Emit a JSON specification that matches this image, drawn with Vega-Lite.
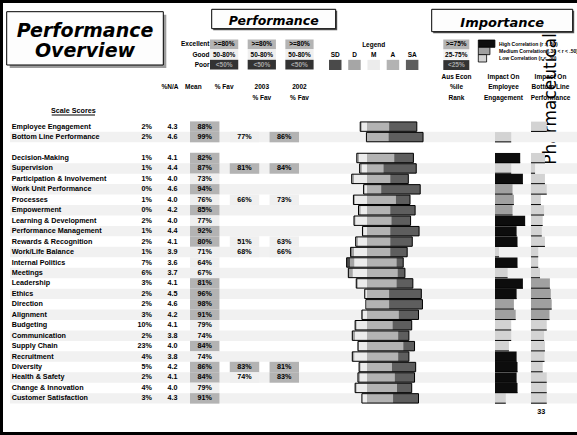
{
"$schema": "https://vega.github.io/schema/vega-lite/v6.json",
"width": 577, "height": 435, "autosize": "none", "padding": 0,
"background": "white",
"config": {
  "view": {"stroke": "#000000", "strokeWidth": 6, "strokeDash": [577, 435, 1012, 0]},
  "axis": {"disable": true}, "legend": {"disable": true},
  "text": {"font": "Liberation Sans", "fontWeight": "bold", "fontSize": 7.2, "color": "#000000"}
},
"datasets": {
 "rows": [
{"scale":"Employee Engagement","na":0.02,"mean":4.3,"fav":0.88,"sd":0.01,"d":0.02,"m":0.09,"a":0.39,"sa":0.49,"blR":0.35,"blLevel":"Low"},
{"scale":"Bottom Line Performance","na":0.02,"mean":4.6,"fav":0.99,"fav2003":0.77,"fav2002":0.86,"sd":0,"d":0,"m":0.01,"a":0.38,"sa":0.61,"engR":0.36,"engLevel":"Low"},
{"scale":"Decision-Making","na":0.01,"mean":4.1,"fav":0.82,"sd":0.01,"d":0.03,"m":0.14,"a":0.48,"sa":0.34,"engR":0.56,"engLevel":"High","blR":0.31,"blLevel":"Low"},
{"scale":"Supervision","na":0.01,"mean":4.4,"fav":0.87,"fav2003":0.81,"fav2002":0.84,"sd":0.01,"d":0.03,"m":0.09,"a":0.29,"sa":0.58,"engR":0.36,"engLevel":"Low","blR":0.09,"blLevel":"Low"},
{"scale":"Participation & Involvement","na":0.01,"mean":4.0,"fav":0.73,"sd":0.01,"d":0.03,"m":0.23,"a":0.41,"sa":0.32,"engR":0.62,"engLevel":"High","blR":0.31,"blLevel":"Low"},
{"scale":"Work Unit Performance","na":0,"mean":4.6,"fav":0.94,"sd":0.01,"d":0.01,"m":0.04,"a":0.25,"sa":0.69,"engR":0.39,"engLevel":"Medium","blR":0.35,"blLevel":"Low"},
{"scale":"Processes","na":0.01,"mean":4.0,"fav":0.76,"fav2003":0.66,"fav2002":0.73,"sd":0.01,"d":0.02,"m":0.21,"a":0.51,"sa":0.25,"engR":0.42,"engLevel":"Medium","blR":0.22,"blLevel":"Low"},
{"scale":"Empowerment","na":0,"mean":4.2,"fav":0.85,"sd":0.01,"d":0.03,"m":0.11,"a":0.41,"sa":0.44,"engR":0.39,"engLevel":"Medium","blR":0.29,"blLevel":"Low"},
{"scale":"Learning & Development","na":0.02,"mean":4.0,"fav":0.77,"sd":0.01,"d":0.02,"m":0.2,"a":0.43,"sa":0.34,"engR":0.67,"engLevel":"High","blR":0.26,"blLevel":"Low"},
{"scale":"Performance Management","na":0.01,"mean":4.4,"fav":0.92,"sd":0.01,"d":0.01,"m":0.06,"a":0.41,"sa":0.51,"engR":0.48,"engLevel":"High","blR":0.24,"blLevel":"Low"},
{"scale":"Rewards & Recognition","na":0.02,"mean":4.1,"fav":0.8,"fav2003":0.51,"fav2002":0.63,"sd":0.01,"d":0.03,"m":0.16,"a":0.41,"sa":0.39,"engR":0.5,"engLevel":"High","blR":0.31,"blLevel":"Low"},
{"scale":"Work/Life Balance","na":0.01,"mean":3.9,"fav":0.71,"fav2003":0.68,"fav2002":0.66,"sd":0.02,"d":0.04,"m":0.23,"a":0.41,"sa":0.3,"engR":0.09,"engLevel":"Low","blR":0.16,"blLevel":"Low"},
{"scale":"Internal Politics","na":0.07,"mean":3.6,"fav":0.64,"sd":0.06,"d":0.08,"m":0.22,"a":0.52,"sa":0.12,"engR":0.5,"engLevel":"High","blR":0.16,"blLevel":"Low"},
{"scale":"Meetings","na":0.06,"mean":3.7,"fav":0.67,"sd":0.02,"d":0.06,"m":0.25,"a":0.54,"sa":0.13,"engR":0.28,"engLevel":"Low","blR":0.2,"blLevel":"Low"},
{"scale":"Leadership","na":0.03,"mean":4.1,"fav":0.81,"sd":0.01,"d":0.02,"m":0.16,"a":0.52,"sa":0.29,"engR":0.62,"engLevel":"High","blR":0.42,"blLevel":"Medium"},
{"scale":"Ethics","na":0.02,"mean":4.5,"fav":0.96,"sd":0,"d":0.01,"m":0.03,"a":0.39,"sa":0.57,"engR":0.48,"engLevel":"High","blR":0.44,"blLevel":"Medium"},
{"scale":"Direction","na":0.02,"mean":4.6,"fav":0.98,"sd":0,"d":0,"m":0.02,"a":0.39,"sa":0.59,"engR":0.42,"engLevel":"Medium","blR":0.46,"blLevel":"Medium"},
{"scale":"Alignment","na":0.03,"mean":4.2,"fav":0.91,"sd":0.01,"d":0.01,"m":0.07,"a":0.56,"sa":0.35,"engR":0.46,"engLevel":"Medium","blR":0.41,"blLevel":"Medium"},
{"scale":"Budgeting","na":0.1,"mean":4.1,"fav":0.79,"sd":0.01,"d":0.02,"m":0.18,"a":0.45,"sa":0.34,"engR":0.36,"engLevel":"Low","blR":0.35,"blLevel":"Low"},
{"scale":"Communication","na":0.02,"mean":3.8,"fav":0.74,"sd":0.01,"d":0.04,"m":0.21,"a":0.55,"sa":0.19,"engR":0.36,"engLevel":"Low","blR":0.29,"blLevel":"Low"},
{"scale":"Supply Chain","na":0.23,"mean":4.0,"fav":0.84,"sd":0.01,"d":0.01,"m":0.14,"a":0.64,"sa":0.2,"engR":0.31,"engLevel":"Low","blR":0.31,"blLevel":"Low"},
{"scale":"Recruitment","na":0.04,"mean":3.8,"fav":0.74,"sd":0.01,"d":0.03,"m":0.22,"a":0.55,"sa":0.19,"engR":0.48,"engLevel":"High","blR":0.3,"blLevel":"Low"},
{"scale":"Diversity","na":0.05,"mean":4.2,"fav":0.86,"fav2003":0.83,"fav2002":0.81,"sd":0.01,"d":0.02,"m":0.11,"a":0.44,"sa":0.42,"engR":0.5,"engLevel":"High","blR":0.26,"blLevel":"Low"},
{"scale":"Health & Safety","na":0.02,"mean":4.1,"fav":0.84,"fav2003":0.74,"fav2002":0.83,"sd":0.01,"d":0.03,"m":0.12,"a":0.49,"sa":0.35,"engR":0.48,"engLevel":"High","blR":0.35,"blLevel":"Low"},
{"scale":"Change & Innovation","na":0.04,"mean":4.0,"fav":0.79,"sd":0.01,"d":0.02,"m":0.18,"a":0.53,"sa":0.26,"engR":0.5,"engLevel":"High","blR":0.35,"blLevel":"Low"},
{"scale":"Customer Satisfaction","na":0.03,"mean":4.3,"fav":0.91,"sd":0,"d":0.01,"m":0.08,"a":0.46,"sa":0.45,"engR":0.24,"engLevel":"Low","blR":0.35,"blLevel":"Low"}
 ],
 "responses": [
  {"code":"sd","label":"SD","side":"left","ord":3},
  {"code":"d","label":"D","side":"left","ord":2},
  {"code":"m","label":"M","side":"left","ord":1},
  {"code":"a","label":"A","side":"right","ord":1},
  {"code":"sa","label":"SA","side":"right","ord":2}
 ],
 "perfLegend": [
  {"level":"Excellent","col":"% Fav","range":">=80%"},{"level":"Good","col":"% Fav","range":"50-80%"},{"level":"Poor","col":"% Fav","range":"<50%"},
  {"level":"Excellent","col":"2003","range":">=80%"},{"level":"Good","col":"2003","range":"50-80%"},{"level":"Poor","col":"2003","range":"<50%"},
  {"level":"Excellent","col":"2002","range":">=80%"},{"level":"Good","col":"2002","range":"50-80%"},{"level":"Poor","col":"2002","range":"<50%"}
 ]
},
"layer": [
 {"data": {"values": [{"company": "Pharmaceuticals"}]},
  "mark": {"type": "text", "angle": 270, "font": "DejaVu Sans", "fontWeight": "normal", "fontSize": 17, "baseline": "middle", "align": "center"},
  "encoding": {
   "x": {"field": "company", "type": "nominal", "scale": {"type": "band", "range": [546, 556], "paddingInner": 0, "paddingOuter": 0}},
   "y": {"field": "company", "type": "nominal", "scale": {"type": "band", "range": [25, 164], "paddingInner": 0, "paddingOuter": 0}},
   "text": {"field": "company"}}},
 {"data": {"name": "rows"},
  "encoding": {"y": {"field": "scale", "type": "nominal", "axis": null, "scale": {"type": "band", "domain": ["Employee Engagement","Bottom Line Performance"," ","Decision-Making","Supervision","Participation & Involvement","Work Unit Performance","Processes","Empowerment","Learning & Development","Performance Management","Rewards & Recognition","Work/Life Balance","Internal Politics","Meetings","Leadership","Ethics","Direction","Alignment","Budgeting","Communication","Supply Chain","Recruitment","Diversity","Health & Safety","Change & Innovation","Customer Satisfaction"], "range": [121.4, 403.6], "paddingInner": 0, "paddingOuter": 0}}},
  "layer": [
   {"transform": [{"filter": {"field": "scale", "oneOf": ["Bottom Line Performance","Supervision","Work Unit Performance","Empowerment","Performance Management","Work/Life Balance","Meetings","Ethics","Alignment","Communication","Recruitment","Health & Safety","Customer Satisfaction"]}}],
    "mark": {"type": "rect", "color": "#f1f1f1"},
    "encoding": {"x": {"datum": 0, "type": "quantitative", "scale": {"domain": [0, 1], "range": [10, 577], "nice": false}}, "x2": {"datum": 1}}},
   {"transform": [{"fold": ["fav","fav2003","fav2002"], "as": ["col","pct"]}, {"filter": {"field": "pct", "valid": true}}],
    "mark": {"type": "rect"},
    "encoding": {"x": {"field": "col", "type": "nominal", "scale": {"type": "band", "domain": ["fav","fav2003","fav2002"], "range": [190, 299], "paddingInner": 0.26, "paddingOuter": 0}},
     "color": {"field": "pct", "type": "quantitative", "scale": {"type": "threshold", "domain": [0.5, 0.8], "range": ["#333333","#efefef","#b3b3b3"]}}}},
   {"transform": [{"fold": ["fav","fav2003","fav2002"], "as": ["col","pct"]}, {"filter": {"field": "pct", "valid": true}}],
    "mark": {"type": "text", "baseline": "middle"},
    "encoding": {"x": {"field": "col", "type": "nominal", "scale": {"type": "band", "domain": ["fav","fav2003","fav2002"], "range": [190, 299], "paddingInner": 0.26, "paddingOuter": 0}},
     "text": {"field": "pct", "type": "quantitative", "format": ".0%"}}},
   {"mark": {"type": "text", "align": "left", "baseline": "middle"},
    "encoding": {"x": {"datum": "Scale", "type": "nominal", "scale": {"type": "band", "domain": ["Scale"], "range": [6.7, 16.7], "paddingInner": 0, "paddingOuter": 0}}, "text": {"field": "scale"}}},
   {"mark": {"type": "text", "align": "right", "baseline": "middle"},
    "encoding": {"x": {"datum": "%N/A", "type": "nominal", "scale": {"type": "band", "domain": ["%N/A"], "range": [147, 157], "paddingInner": 0, "paddingOuter": 0}}, "text": {"field": "na", "type": "quantitative", "format": ".0%"}}},
   {"mark": {"type": "text", "align": "center", "baseline": "middle"},
    "encoding": {"x": {"datum": "Mean", "type": "nominal", "scale": {"type": "band", "domain": ["Mean"], "range": [167.5, 177.5], "paddingInner": 0, "paddingOuter": 0}}, "text": {"field": "mean", "type": "quantitative", "format": ".1f"}}},
   {"transform": [{"fold": ["sd","d","m","a","sa"], "as": ["code","share"]}, {"lookup": "code", "from": {"data": {"name": "responses"}, "key": "code", "fields": ["side","ord"]}}, {"filter": {"field": "side", "equal": "left"}}],
    "mark": {"type": "bar", "height": {"band": 0.9}},
    "encoding": {"x": {"field": "share", "type": "quantitative", "stack": "zero", "scale": {"domain": [0, 1], "range": [367, 310.4], "nice": false, "zero": false}},
     "color": {"field": "code", "type": "nominal", "scale": {"domain": ["sd","d","m","a","sa"], "range": ["#4a4a4a","#a6a6a6","#ececec","#b3b3b3","#5e5e5e"]}},
     "order": {"field": "ord", "type": "quantitative"}}},
   {"transform": [{"fold": ["sd","d","m","a","sa"], "as": ["code","share"]}, {"lookup": "code", "from": {"data": {"name": "responses"}, "key": "code", "fields": ["side","ord"]}}, {"filter": {"field": "side", "equal": "right"}}],
    "mark": {"type": "bar", "height": {"band": 0.9}},
    "encoding": {"x": {"field": "share", "type": "quantitative", "stack": "zero", "scale": {"domain": [0, 1], "range": [367, 423.6], "nice": false, "zero": false}},
     "color": {"field": "code", "type": "nominal", "scale": {"domain": ["sd","d","m","a","sa"], "range": ["#4a4a4a","#a6a6a6","#ececec","#b3b3b3","#5e5e5e"]}},
     "order": {"field": "ord", "type": "quantitative"}}},
   {"mark": {"type": "bar", "height": {"band": 0.9}, "fillOpacity": 0, "stroke": "#000000", "strokeWidth": 1, "x2Offset": 56.6},
    "encoding": {"x": {"field": "fav", "type": "quantitative", "scale": {"domain": [0, 1], "range": [310.4, 367], "nice": false, "zero": false}}, "x2": {"field": "fav"}}},
   {"transform": [{"filter": {"field": "engR", "valid": true}}],
    "mark": {"type": "bar", "height": {"band": 0.96}},
    "encoding": {"x": {"field": "engR", "type": "quantitative", "scale": {"domain": [0, 1], "range": [495, 540], "nice": false}},
     "color": {"field": "engLevel", "type": "nominal", "scale": {"domain": ["High","Medium","Low"], "range": ["#0d0d0d","#a0a0a0","#d3d3d3"]}}}},
   {"transform": [{"filter": {"field": "engR", "valid": true}}],
    "mark": {"type": "rule", "color": "#000000", "strokeWidth": 1, "yOffset": 4.8},
    "encoding": {"x": {"field": "engR", "type": "quantitative", "scale": {"domain": [0, 1], "range": [495, 540], "nice": false}}, "x2": {"datum": 0}}},
   {"transform": [{"filter": {"field": "blR", "valid": true}}],
    "mark": {"type": "bar", "height": {"band": 0.96}},
    "encoding": {"x": {"field": "blR", "type": "quantitative", "scale": {"domain": [0, 1], "range": [531, 576], "nice": false}},
     "color": {"field": "blLevel", "type": "nominal", "scale": {"domain": ["High","Medium","Low"], "range": ["#0d0d0d","#a0a0a0","#d3d3d3"]}}}},
   {"transform": [{"filter": {"field": "blR", "valid": true}}],
    "mark": {"type": "rule", "color": "#000000", "strokeWidth": 1, "yOffset": 4.8},
    "encoding": {"x": {"field": "blR", "type": "quantitative", "scale": {"domain": [0, 1], "range": [531, 576], "nice": false}}, "x2": {"datum": 0}}}
  ],
  "resolve": {"scale": {"x": "independent", "color": "independent"}}},
 {"data": {"values": [{"box": "Performance Overview", "lines": ["Performance", "Overview"]}]},
  "encoding": {"x": {"field": "box", "type": "nominal", "scale": {"type": "band", "range": [6.7, 163.3], "paddingInner": 0, "paddingOuter": 0}},
   "y": {"field": "box", "type": "nominal", "scale": {"type": "band", "range": [11.7, 65], "paddingInner": 0, "paddingOuter": 0}}},
  "layer": [
   {"mark": {"type": "rect", "color": "#9c9c9c", "xOffset": 3, "yOffset": 3}},
   {"mark": {"type": "rect", "fill": "#fdfdfd", "stroke": "#000000", "strokeWidth": 1}},
   {"mark": {"type": "text", "font": "DejaVu Sans", "fontStyle": "italic", "fontWeight": "bold", "fontSize": 19, "lineHeight": 20.6, "baseline": "alphabetic", "dy": -1.6}, "encoding": {"text": {"field": "lines"}}}
  ]},
 {"data": {"values": [{"box": "Performance"}]},
  "encoding": {"x": {"field": "box", "type": "nominal", "scale": {"type": "band", "range": [211.7, 335.7], "paddingInner": 0, "paddingOuter": 0}},
   "y": {"field": "box", "type": "nominal", "scale": {"type": "band", "range": [9.3, 28.7], "paddingInner": 0, "paddingOuter": 0}}},
  "layer": [
   {"mark": {"type": "rect", "color": "#555555", "xOffset": 1.5, "yOffset": 1.5}},
   {"mark": {"type": "rect", "fill": "#fdfdfd", "stroke": "#000000", "strokeWidth": 1}},
   {"mark": {"type": "text", "font": "DejaVu Sans", "fontStyle": "italic", "fontWeight": "bold", "fontSize": 12.5, "baseline": "middle", "dy": 2}, "encoding": {"text": {"field": "box"}}}
  ]},
 {"data": {"values": [{"box": "Importance"}]},
  "encoding": {"x": {"field": "box", "type": "nominal", "scale": {"type": "band", "range": [431.7, 572.7], "paddingInner": 0, "paddingOuter": 0}},
   "y": {"field": "box", "type": "nominal", "scale": {"type": "band", "range": [9.3, 31.7], "paddingInner": 0, "paddingOuter": 0}}},
  "layer": [
   {"mark": {"type": "rect", "color": "#555555", "xOffset": 1.5, "yOffset": 1.5}},
   {"mark": {"type": "rect", "fill": "#fdfdfd", "stroke": "#000000", "strokeWidth": 1}},
   {"mark": {"type": "text", "font": "DejaVu Sans", "fontStyle": "italic", "fontWeight": "bold", "fontSize": 13, "baseline": "middle", "dy": 2.4}, "encoding": {"text": {"field": "box"}}}
  ]},
 {"data": {"name": "perfLegend"},
  "encoding": {"x": {"field": "col", "type": "nominal", "scale": {"type": "band", "domain": ["% Fav","2003","2002"], "range": [210, 313.6], "paddingInner": 0.25, "paddingOuter": 0}},
   "y": {"field": "level", "type": "nominal", "scale": {"type": "band", "domain": ["Excellent","Good","Poor"], "range": [39.5, 69.5], "paddingInner": 0.04, "paddingOuter": 0}}},
  "layer": [
   {"mark": {"type": "rect"}, "encoding": {"color": {"field": "level", "type": "nominal", "scale": {"domain": ["Excellent","Good","Poor"], "range": ["#b4b4b4","#efefef","#333333"]}}}},
   {"mark": {"type": "text", "fontSize": 6.5, "baseline": "middle"}, "encoding": {"text": {"field": "range"}, "color": {"field": "level", "type": "nominal", "scale": {"domain": ["Excellent","Good","Poor"], "range": ["#000000","#000000","#a6a6a6"]}}}}
  ],
  "resolve": {"scale": {"color": "independent"}}},
 {"data": {"name": "perfLegend"},
  "transform": [{"filter": {"field": "col", "equal": "% Fav"}}],
  "mark": {"type": "text", "fontSize": 6.5, "baseline": "middle", "align": "right"},
  "encoding": {"x": {"datum": "level", "type": "nominal", "scale": {"type": "band", "domain": ["level"], "range": [204.5, 214.5], "paddingInner": 0, "paddingOuter": 0}},
   "y": {"field": "level", "type": "nominal", "scale": {"type": "band", "domain": ["Excellent","Good","Poor"], "range": [39.5, 69.5], "paddingInner": 0.04, "paddingOuter": 0}},
   "text": {"field": "level"}}},
 {"data": {"name": "responses"},
  "mark": {"type": "rect"},
  "encoding": {"x": {"field": "label", "type": "nominal", "scale": {"type": "band", "domain": ["SD","D","M","A","SA"], "range": [329, 418.4], "paddingInner": 0.35, "paddingOuter": 0}},
   "y": {"datum": "swatches", "type": "nominal", "scale": {"type": "band", "domain": ["title","labels","swatches"], "range": [39.5, 70], "paddingInner": 0, "paddingOuter": 0}},
   "color": {"field": "code", "type": "nominal", "scale": {"domain": ["sd","d","m","a","sa"], "range": ["#4a4a4a","#a6a6a6","#ececec","#b3b3b3","#5e5e5e"]}}}},
 {"data": {"name": "responses"},
  "mark": {"type": "text", "fontSize": 6.5, "baseline": "middle"},
  "encoding": {"x": {"field": "label", "type": "nominal", "scale": {"type": "band", "domain": ["SD","D","M","A","SA"], "range": [329, 418.4], "paddingInner": 0.35, "paddingOuter": 0}},
   "y": {"datum": "labels", "type": "nominal", "scale": {"type": "band", "domain": ["title","labels","swatches"], "range": [39.5, 70], "paddingInner": 0, "paddingOuter": 0}},
   "text": {"field": "label"}}},
 {"data": {"values": [{"heading": "Legend", "over": "M"}]},
  "mark": {"type": "text", "fontSize": 6.5, "baseline": "middle"},
  "encoding": {"x": {"field": "over", "type": "nominal", "scale": {"type": "band", "domain": ["SD","D","M","A","SA"], "range": [329, 418.4], "paddingInner": 0.35, "paddingOuter": 0}},
   "y": {"datum": "title", "type": "nominal", "scale": {"type": "band", "domain": ["title","labels","swatches"], "range": [39.5, 70], "paddingInner": 0, "paddingOuter": 0}},
   "text": {"field": "heading"}}},
 {"data": {"values": [{"pct": ">=75%"}, {"pct": "25-75%"}, {"pct": "<25%"}]},
  "encoding": {"x": {"datum": "Aus Econ", "type": "nominal", "scale": {"type": "band", "domain": ["Aus Econ"], "range": [443.3, 469.3], "paddingInner": 0, "paddingOuter": 0}},
   "y": {"field": "pct", "type": "nominal", "scale": {"type": "band", "domain": [">=75%","25-75%","<25%"], "range": [39.5, 70], "paddingInner": 0.04, "paddingOuter": 0}}},
  "layer": [
   {"mark": {"type": "rect"}, "encoding": {"color": {"field": "pct", "type": "nominal", "scale": {"domain": [">=75%","25-75%","<25%"], "range": ["#b4b4b4","#f2f2f2","#333333"]}}}},
   {"mark": {"type": "text", "fontSize": 6.5, "baseline": "middle"}, "encoding": {"text": {"field": "pct"}, "color": {"field": "pct", "type": "nominal", "scale": {"domain": [">=75%","25-75%","<25%"], "range": ["#000000","#000000","#a6a6a6"]}}}}
  ],
  "resolve": {"scale": {"color": "independent"}}},
 {"data": {"values": [{"corr": "High", "label": "High Correlation (r > .50)", "r": 0.6}, {"corr": "Medium", "label": "Medium Correlation (.30 < r < .50)", "r": 0.42}, {"corr": "Low", "label": "Low Correlation (r < .30)", "r": 0.3}]},
  "encoding": {"y": {"field": "corr", "type": "nominal", "scale": {"type": "band", "domain": ["High","Medium","Low"], "range": [40, 62], "paddingInner": 0, "paddingOuter": 0}}},
  "layer": [
   {"mark": {"type": "bar", "stroke": "#000000", "strokeWidth": 0.8},
    "encoding": {"x": {"field": "r", "type": "quantitative", "scale": {"domain": [0, 1], "range": [478.3, 506], "nice": false}},
     "color": {"field": "corr", "type": "nominal", "scale": {"domain": ["High","Medium","Low"], "range": ["#0d0d0d","#a0a0a0","#d3d3d3"]}}}},
   {"mark": {"type": "text", "fontSize": 5, "align": "left", "baseline": "middle"},
    "encoding": {"x": {"datum": 0.75, "type": "quantitative", "scale": {"domain": [0, 1], "range": [478.3, 506], "nice": false}}, "text": {"field": "label"}}}
  ]},
 {"data": {"values": [{"col": "%N/A"}, {"col": "Mean"}]},
  "mark": {"type": "text", "fontSize": 6.5, "baseline": "alphabetic"},
  "encoding": {"x": {"field": "col", "type": "nominal", "scale": {"type": "band", "domain": ["%N/A","Mean"], "range": [158.3, 205], "paddingInner": 0, "paddingOuter": 0}},
   "y": {"datum": "head2", "type": "nominal", "scale": {"type": "point", "domain": ["head1","head2","head3"], "range": [78.7, 100], "padding": 0}},
   "text": {"field": "col"}}},
 {"data": {"values": [{"col": "% Fav", "lines": ["% Fav"]}, {"col": "2003", "lines": ["2003", "% Fav"]}, {"col": "2002", "lines": ["2002", "% Fav"]}]},
  "mark": {"type": "text", "fontSize": 6.5, "baseline": "alphabetic", "lineHeight": 10.7},
  "encoding": {"x": {"field": "col", "type": "nominal", "scale": {"type": "band", "domain": ["% Fav","2003","2002"], "range": [210, 313.6], "paddingInner": 0.25, "paddingOuter": 0}},
   "y": {"datum": "head2", "type": "nominal", "scale": {"type": "point", "domain": ["head1","head2","head3"], "range": [78.7, 100], "padding": 0}},
   "text": {"field": "lines"}}},
 {"data": {"values": [{"col": "aus", "lines": ["Aus Econ", "%ile", "Rank"]}, {"col": "eng", "lines": ["Impact On", "Employee", "Engagement"]}, {"col": "bl", "lines": ["Impact On", "Bottom Line", "Performance"]}]},
  "mark": {"type": "text", "fontSize": 6.5, "baseline": "alphabetic", "lineHeight": 10.65},
  "encoding": {"x": {"field": "col", "type": "nominal", "scale": {"type": "band", "domain": ["aus","eng","bl"], "range": [433, 574], "paddingInner": 0, "paddingOuter": 0}},
   "y": {"datum": "head1", "type": "nominal", "scale": {"type": "point", "domain": ["head1","head2","head3"], "range": [78.7, 100], "padding": 0}},
   "text": {"field": "lines"}}},
 {"data": {"values": [{"t": "Scale Scores"}]},
  "encoding": {"x": {"field": "t", "type": "nominal", "scale": {"type": "band", "range": [51.7, 95], "paddingInner": 0, "paddingOuter": 0}}},
  "layer": [
   {"mark": {"type": "text", "baseline": "middle"},
    "encoding": {"y": {"field": "t", "type": "nominal", "scale": {"type": "band", "range": [105.5, 115.5], "paddingInner": 0, "paddingOuter": 0}}, "text": {"field": "t"}}},
   {"mark": {"type": "rect", "color": "#000000"},
    "encoding": {"y": {"field": "t", "type": "nominal", "scale": {"type": "band", "range": [114.6, 115.4], "paddingInner": 0, "paddingOuter": 0}}}}
  ],
  "resolve": {"scale": {"y": "independent"}}},
 {"data": {"values": [{"page": "33"}]},
  "mark": {"type": "text", "baseline": "middle"},
  "encoding": {"x": {"field": "page", "type": "nominal", "scale": {"type": "band", "range": [536, 546.7], "paddingInner": 0, "paddingOuter": 0}},
   "y": {"field": "page", "type": "nominal", "scale": {"type": "band", "range": [407.3, 417.3], "paddingInner": 0, "paddingOuter": 0}},
   "text": {"field": "page"}}}
],
"resolve": {"scale": {"x": "independent", "y": "independent", "color": "independent"}}
}
